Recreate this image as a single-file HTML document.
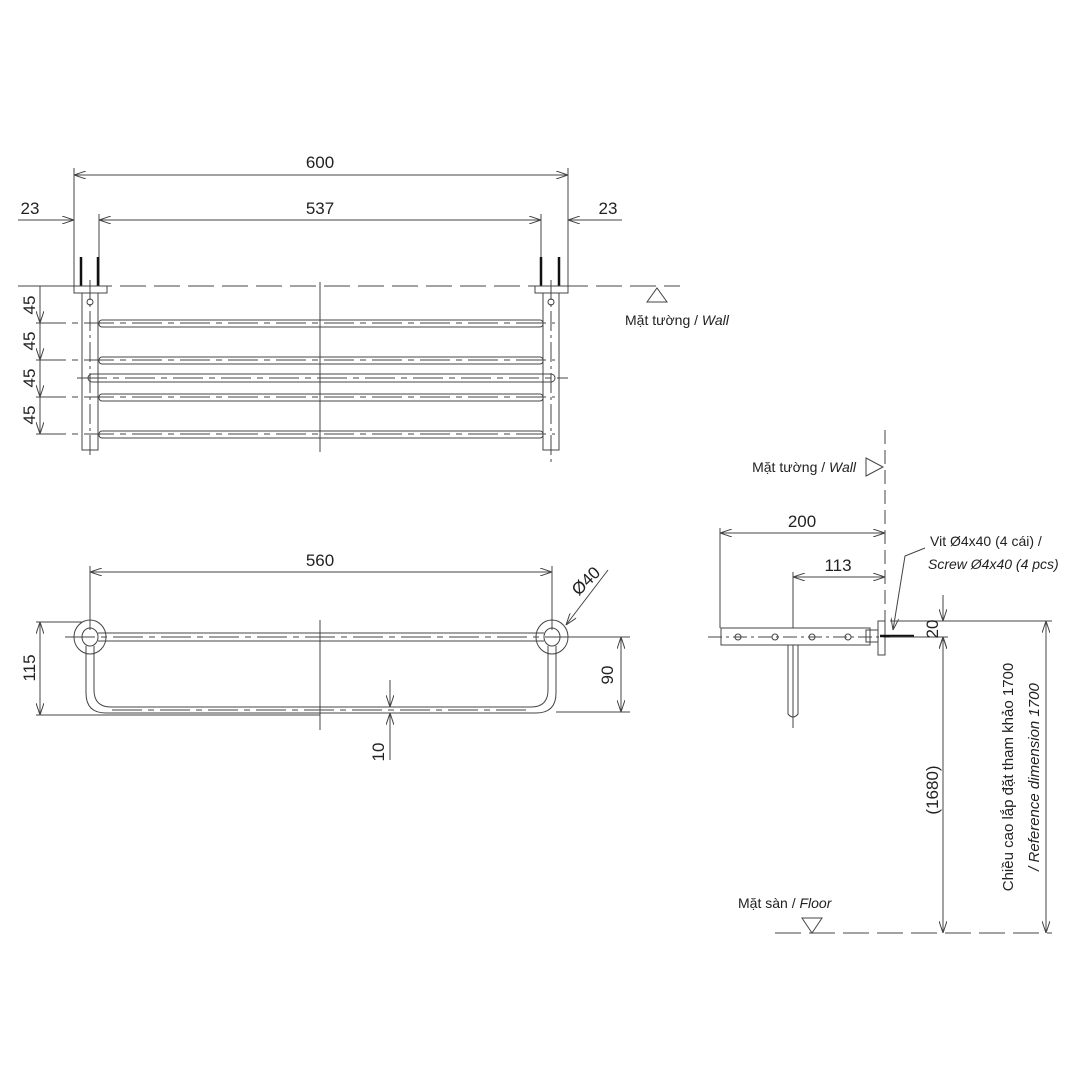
<!DOCTYPE html>
<html><head><meta charset="utf-8"><style>
html,body{margin:0;padding:0;background:#fff}
svg{display:block}
text{font-family:"Liberation Sans","Noto Sans CJK SC",sans-serif;fill:#222}
</style></head><body>
<svg width="1090" height="1090" viewBox="0 0 1090 1090" xmlns="http://www.w3.org/2000/svg">
<defs>
<marker id="a" viewBox="0 0 12 8" refX="12" refY="4" markerWidth="12" markerHeight="8" orient="auto-start-reverse" markerUnits="userSpaceOnUse">
<path d="M0,0 L12,4 L0,8" fill="none" stroke="#444" stroke-width="1"/></marker>
</defs>
<g stroke="#444" stroke-width="1" fill="none">
<!-- TOP VIEW -->
<line x1="74" y1="175" x2="568" y2="175" marker-start="url(#a)" marker-end="url(#a)"/>
<line x1="99" y1="220" x2="541" y2="220" marker-start="url(#a)" marker-end="url(#a)"/>
<line x1="18" y1="220" x2="74" y2="220" marker-end="url(#a)"/>
<line x1="622" y1="220" x2="568" y2="220" marker-end="url(#a)"/>
<line x1="74" y1="168" x2="74" y2="286"/><line x1="99" y1="214" x2="99" y2="286"/>
<line x1="541" y1="214" x2="541" y2="286"/><line x1="568" y1="168" x2="568" y2="286"/>
<line x1="18" y1="286" x2="680" y2="286" stroke-dasharray="26,8"/>
<g stroke="#111" stroke-width="2.5"><line x1="81" y1="257" x2="81" y2="286"/><line x1="98" y1="257" x2="98" y2="286"/><line x1="541" y1="257" x2="541" y2="286"/><line x1="559" y1="257" x2="559" y2="286"/></g>
<rect x="74" y="286" width="33" height="7"/><rect x="535" y="286" width="33" height="7"/>
<rect x="82" y="293" width="16" height="157"/><rect x="543" y="293" width="16" height="157"/>
<circle cx="90" cy="302" r="3"/><circle cx="551" cy="302" r="3"/>
<line x1="90" y1="280" x2="90" y2="458" stroke-dasharray="20,4,3,4"/>
<line x1="551" y1="280" x2="551" y2="462" stroke-dasharray="20,4,3,4"/>
<g>
<rect x="99" y="320" width="444" height="7" rx="3"/>
<rect x="99" y="357" width="444" height="7" rx="3"/>
<rect x="88" y="374" width="467" height="8" rx="4"/>
<rect x="99" y="394" width="444" height="7" rx="3"/>
<rect x="99" y="431" width="444" height="7" rx="3"/>
</g>
<g stroke-dasharray="30,6,6,6">
<line x1="36" y1="323" x2="555" y2="323"/><line x1="36" y1="360" x2="555" y2="360"/>
<line x1="77" y1="378" x2="568" y2="378"/><line x1="36" y1="397" x2="555" y2="397"/>
<line x1="36" y1="434" x2="555" y2="434"/></g>
<line x1="320" y1="282" x2="320" y2="452"/>
<line x1="36" y1="286" x2="74" y2="286"/>
<line x1="40" y1="286" x2="40" y2="434"/>
<g><line x1="40" y1="290" x2="40" y2="323" marker-end="url(#a)"/><line x1="40" y1="327" x2="40" y2="360" marker-end="url(#a)"/><line x1="40" y1="364" x2="40" y2="397" marker-end="url(#a)"/><line x1="40" y1="401" x2="40" y2="434" marker-end="url(#a)"/></g>
<path d="M647,302 L667,302 L657,288 Z"/>
<!-- FRONT VIEW -->
<line x1="90" y1="572" x2="552" y2="572" marker-start="url(#a)" marker-end="url(#a)"/>
<line x1="90" y1="566" x2="90" y2="630"/><line x1="552" y1="566" x2="552" y2="630"/>
<ellipse cx="90" cy="637" rx="16" ry="17"/><ellipse cx="90" cy="637" rx="8" ry="9"/>
<ellipse cx="552" cy="637" rx="16" ry="17"/><ellipse cx="552" cy="637" rx="8" ry="9"/>
<line x1="98" y1="633" x2="544" y2="633"/><line x1="98" y1="641" x2="544" y2="641"/>
<line x1="65" y1="637" x2="590" y2="637" stroke-dasharray="30,6,6,6"/>
<path d="M86,646 L86,693 Q86,713 106,713 L536,713 Q556,713 556,693 L556,646"/>
<path d="M94,646 L94,690 Q94,707 111,707 L531,707 Q548,707 548,690 L548,646"/>
<line x1="112" y1="710" x2="530" y2="710" stroke-dasharray="30,6,6,6"/>
<line x1="320" y1="620" x2="320" y2="730"/>
<line x1="36" y1="622" x2="82" y2="622"/><line x1="36" y1="715" x2="320" y2="715"/>
<line x1="40" y1="622" x2="40" y2="715" marker-start="url(#a)" marker-end="url(#a)"/>
<line x1="556" y1="637" x2="630" y2="637"/><line x1="556" y1="712" x2="630" y2="712"/>
<line x1="621" y1="637" x2="621" y2="712" marker-start="url(#a)" marker-end="url(#a)"/>
<line x1="390" y1="680" x2="390" y2="707" marker-end="url(#a)"/>
<line x1="390" y1="760" x2="390" y2="713" marker-end="url(#a)"/>
<line x1="608" y1="570" x2="566" y2="625" marker-end="url(#a)"/>
<!-- SIDE VIEW -->
<line x1="885" y1="430" x2="885" y2="640" stroke-dasharray="14,6"/>
<path d="M866,458 L866,476 L883,467 Z"/>
<line x1="720" y1="533" x2="885" y2="533" marker-start="url(#a)" marker-end="url(#a)"/>
<line x1="720" y1="528" x2="720" y2="628"/>
<line x1="793" y1="577" x2="885" y2="577" marker-start="url(#a)" marker-end="url(#a)"/>
<line x1="793" y1="572" x2="793" y2="628"/>
<rect x="721" y="628" width="149" height="17"/>
<circle cx="738" cy="637" r="3"/><circle cx="775" cy="637" r="3"/><circle cx="812" cy="637" r="3"/><circle cx="848" cy="637" r="3"/>
<line x1="708" y1="637" x2="900" y2="637" stroke-dasharray="14,4,3,4"/>
<rect x="878" y="621" width="7" height="34"/>
<rect x="866" y="630" width="12" height="12"/>
<line x1="880" y1="636" x2="914" y2="636" stroke="#111" stroke-width="2.5"/>
<path d="M788,645 L788,714 Q793,720 798,714 L798,645"/>
<line x1="793" y1="645" x2="793" y2="728"/>
<path d="M925,548 L905,556 L893,630" marker-end="url(#a)"/>
<line x1="890" y1="621" x2="1052" y2="621"/>
<line x1="890" y1="637" x2="948" y2="637"/>
<line x1="943" y1="595" x2="943" y2="621" marker-end="url(#a)"/>
<line x1="943" y1="650" x2="943" y2="637" marker-end="url(#a)"/>
<line x1="943" y1="637" x2="943" y2="933" marker-start="url(#a)" marker-end="url(#a)"/>
<line x1="1046" y1="621" x2="1046" y2="933" marker-start="url(#a)" marker-end="url(#a)"/>
<line x1="775" y1="933" x2="1052" y2="933" stroke-dasharray="26,8"/>
<path d="M802,918 L822,918 L812,933 Z"/>
</g>
<g font-size="17" text-anchor="middle">
<text x="320" y="168">600</text>
<text x="320" y="214">537</text>
<text x="30" y="214">23</text>
<text x="608" y="214">23</text>
<text x="320" y="566">560</text>
<text x="802" y="527">200</text>
<text x="838" y="571">113</text>
</g>
<g font-size="17" text-anchor="middle">
<text transform="translate(35,305) rotate(-90)">45</text>
<text transform="translate(35,341) rotate(-90)">45</text>
<text transform="translate(35,378) rotate(-90)">45</text>
<text transform="translate(35,415) rotate(-90)">45</text>
<text transform="translate(35,668) rotate(-90)">115</text>
<text transform="translate(613,675) rotate(-90)">90</text>
<text transform="translate(384,752) rotate(-90)">10</text>
<text transform="translate(590,585) rotate(-45)">Ø40</text>
<text transform="translate(938,629) rotate(-90)">20</text>
<text transform="translate(938,790) rotate(-90)">(1680)</text>
</g>
<g font-size="14">
<text x="625" y="325">Mặt tường / <tspan font-style="italic">Wall</tspan></text>
<text x="856" y="472" text-anchor="end">Mặt tường / <tspan font-style="italic">Wall</tspan></text>
<text x="930" y="546">Vit Ø4x40 (4 cái) /</text>
<text x="928" y="569" font-style="italic">Screw Ø4x40 (4 pcs)</text>
<text x="738" y="908">Mặt sàn / <tspan font-style="italic">Floor</tspan></text>
<text transform="translate(1013,777) rotate(-90)" text-anchor="middle" font-size="15">Chiều cao lắp đặt tham khảo 1700</text>
<text transform="translate(1039,777) rotate(-90)" text-anchor="middle" font-size="15" font-style="italic">/ Reference dimension 1700</text>
</g>
</svg>
</body></html>
